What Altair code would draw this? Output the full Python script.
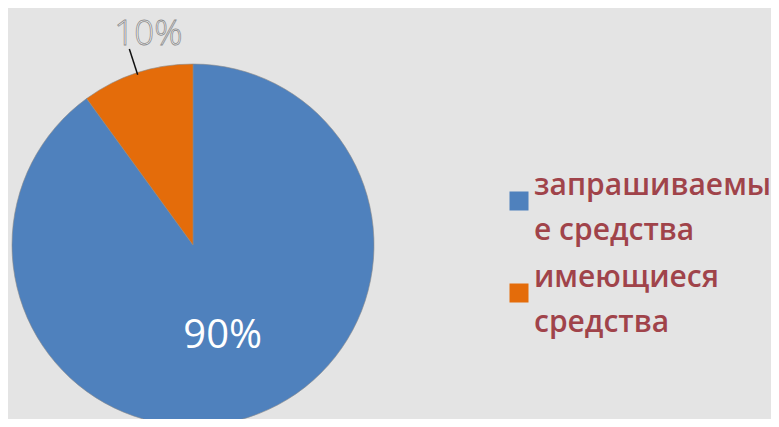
import altair as alt
import pandas as pd

# ---- data ----
categories = ["запрашиваемые средства", "имеющиеся средства"]
legend_lines = [["запрашиваемы", "е средства"], ["имеющиеся", "средства"]]
values = [90, 10]
pct_labels = ["90%", "10%"]
colors = ["#4f81bd", "#e46c0a"]

df = pd.DataFrame({"cat": categories, "value": values, "pct": pct_labels, "ord": [0, 1]})

# ---- layout constants ----
W, H = 763, 411
CX, CY, R = 185, 237, 181
BG = "#e4e4e4"
TXT = "#a0434a"

label_expr = " : ".join(
    f"datum.label == '{c}' ? {lines!r}" for c, lines in zip(categories, legend_lines)
) + " : datum.label"

base = alt.Chart(df).transform_window(
    cum="sum(value)", sort=[alt.SortField("ord")], frame=[None, 0]
).transform_joinaggregate(total="sum(value)").transform_calculate(
    mid="2*PI*(datum.cum - datum.value/2)/datum.total"
)

pie = base.mark_arc(radius=R, stroke="#8a8a8a", strokeWidth=0.6).encode(
    theta=alt.Theta("value:Q", stack=True),
    order=alt.Order("ord:Q"),
    color=alt.Color(
        "cat:N",
        scale=alt.Scale(domain=categories, range=colors),
        legend=alt.Legend(
            title=None,
            orient="none",
            legendX=496,
            legendY=178,
            symbolType="square",
            symbolSize=361,
            symbolStrokeWidth=0,
            symbolOpacity=1,
            labelFont="Open Sans",
            labelFontSize=30,
            labelFontWeight=600,
            labelColor=TXT,
            labelLimit=500,
            labelOffset=0,
            labelBaseline="bottom",
            rowPadding=17,
            labelExpr=label_expr,
        ),
    ),
    x=alt.value(CX),
    y=alt.value(CY),
)

lab90 = base.transform_filter(alt.datum.ord == 0).transform_calculate(
    lx=f"{CX} + 96*sin(datum.mid)", ly=f"{CY} - 96*cos(datum.mid)"
).mark_text(font="Open Sans", fontSize=40, color="white", align="center", baseline="middle").encode(
    x=alt.X("lx:Q", scale=None), y=alt.Y("ly:Q", scale=None), text="pct:N"
)

lab10 = base.transform_filter(alt.datum.ord == 1).transform_calculate(
    lx=f"{CX} + 222*sin(datum.mid)", ly=f"{CY} - 222*cos(datum.mid)"
).mark_text(
    font="Open Sans", fontWeight=300, fontSize=35, fill="white", stroke="#8c8c8c", strokeWidth=0.8,
    align="center", baseline="middle", dx=24
).encode(x=alt.X("lx:Q", scale=None), y=alt.Y("ly:Q", scale=None), text="pct:N")

leader = base.transform_filter(alt.datum.ord == 1).transform_calculate(
    x1=f"{CX} + 179*sin(datum.mid)", y1=f"{CY} - 179*cos(datum.mid)",
    x2=f"{CX} + 206*sin(datum.mid)", y2=f"{CY} - 206*cos(datum.mid)",
).mark_rule(color="#111111", strokeWidth=1.5).encode(
    x=alt.X("x1:Q", scale=None), y=alt.Y("y1:Q", scale=None),
    x2="x2:Q", y2="y2:Q",
)

chart = alt.layer(pie, leader, lab90, lab10).properties(
    width=W, height=H, background=BG, padding=0,
    autosize=alt.AutoSizeParams(type="none"),
).configure(style={"guide-label": {"lineHeight": 45}}).configure_view(stroke=None)

chart.save("out.html", embed_options={"renderer": "svg", "actions": False})
